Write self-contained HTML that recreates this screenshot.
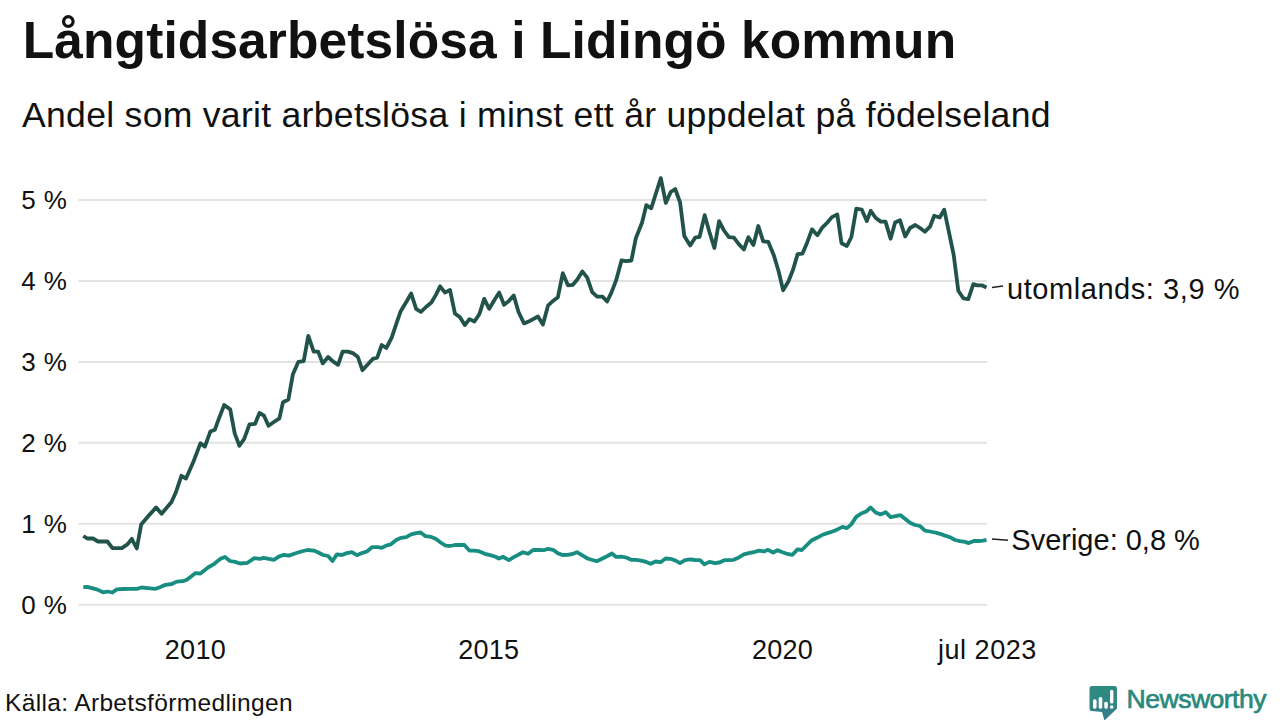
<!DOCTYPE html>
<html><head><meta charset="utf-8">
<style>
html,body{margin:0;padding:0;background:#fff;}
body{width:1280px;height:720px;position:relative;overflow:hidden;font-family:"Liberation Sans",sans-serif;color:#111;}
.t{position:absolute;white-space:nowrap;line-height:1;}
#title{left:22.75px;top:14.8px;font-size:51.5px;font-weight:bold;letter-spacing:0.1px;color:#111;}
#sub{left:22px;top:97.5px;font-size:35.6px;letter-spacing:0.28px;color:#111;}
.yl{position:absolute;right:1213.6px;font-size:26px;letter-spacing:-0.4px;word-spacing:1.5px;line-height:1;white-space:nowrap;color:#111;text-align:right;}
.xl{position:absolute;font-size:27px;letter-spacing:0.25px;line-height:1;white-space:nowrap;color:#111;transform:translateX(-50%);}
#src{left:5px;top:691.3px;font-size:24.5px;letter-spacing:0.35px;color:#111;}
#nw{left:1126.6px;top:685.7px;font-size:26.6px;letter-spacing:-0.55px;color:#2a897c;-webkit-text-stroke:0.7px #2a897c;}
.lab{position:absolute;font-size:29px;line-height:1;white-space:nowrap;color:#111;}
svg{position:absolute;left:0;top:0;}
</style></head><body>
<svg width="1280" height="720" viewBox="0 0 1280 720">
<line x1="78.5" y1="604.7" x2="987" y2="604.7" stroke="#e2e2e2" stroke-width="2"/>
<line x1="78.5" y1="523.8" x2="987" y2="523.8" stroke="#e2e2e2" stroke-width="2"/>
<line x1="78.5" y1="442.8" x2="987" y2="442.8" stroke="#e2e2e2" stroke-width="2"/>
<line x1="78.5" y1="361.9" x2="987" y2="361.9" stroke="#e2e2e2" stroke-width="2"/>
<line x1="78.5" y1="280.9" x2="987" y2="280.9" stroke="#e2e2e2" stroke-width="2"/>
<line x1="78.5" y1="200" x2="987" y2="200" stroke="#e2e2e2" stroke-width="2"/>
<polyline fill="none" stroke="#178e81" stroke-width="3.8" stroke-linejoin="round" points="83.3,587.1 87.4,586.9 91.8,588.1 96.8,589.4 103.0,592.3 107.4,591.5 112.4,592.5 116.8,589.4 123.0,589.0 130.5,588.8 136.8,588.8 141.8,587.5 148.0,588.1 155.5,588.8 159.3,587.5 165.5,584.8 171.8,584.0 176.8,581.6 183.0,581.2 186.8,579.8 190.5,576.9 195.5,573.1 200.5,573.5 208.0,567.5 214.3,563.8 220.5,558.8 224.9,556.9 229.9,561.0 235.0,561.9 240.0,563.5 247.5,562.8 254.4,558.1 260.0,558.8 263.8,557.9 268.8,558.8 273.8,559.8 278.8,556.6 283.8,554.8 288.8,555.6 295.0,553.5 301.2,551.5 307.5,550.0 313.8,550.6 318.8,552.8 323.1,555.0 328.1,556.0 332.5,561.0 336.9,554.4 341.9,555.0 346.9,553.1 351.9,552.2 356.9,555.2 361.9,553.1 366.9,551.5 371.9,547.2 377.5,547.2 381.9,547.8 386.2,545.6 390.6,544.4 396.2,540.0 401.2,537.8 406.2,537.2 411.2,534.4 416.2,533.1 420.6,532.5 425.6,536.2 431.2,536.9 435.6,538.8 440.6,542.5 445.6,545.6 450.0,546.0 455.0,545.0 464.4,545.0 469.4,550.6 473.8,550.6 478.8,551.2 485.0,553.8 490.0,555.2 495.0,556.5 498.8,558.5 503.1,556.9 508.8,560.2 513.8,557.2 518.1,554.8 523.1,552.2 528.1,553.8 533.1,550.0 538.8,549.8 543.8,550.2 548.1,548.8 553.1,549.8 557.5,553.1 562.5,555.0 567.5,554.8 572.5,554.0 576.9,552.2 581.9,555.2 587.5,558.5 592.5,560.0 596.9,561.2 601.9,558.8 607.5,556.0 611.9,553.5 616.2,556.9 621.2,556.6 626.2,557.5 631.2,559.8 636.2,559.8 641.2,560.6 646.2,561.9 650.6,563.8 655.6,561.5 660.6,562.2 665.6,558.5 670.6,558.8 675.6,560.6 680.0,563.1 685.0,560.2 690.0,559.4 695.0,560.0 700.0,560.2 704.4,564.4 709.4,561.9 715.0,563.1 719.4,562.5 724.4,560.2 728.8,560.2 733.8,559.8 738.8,557.5 743.8,554.4 748.8,553.1 753.8,552.2 758.8,550.6 763.8,551.5 768.1,549.8 773.1,552.5 777.5,550.2 782.5,552.2 787.5,554.0 792.5,554.8 797.5,549.4 801.9,550.0 806.9,545.0 811.9,540.2 816.9,537.8 822.5,534.8 827.5,533.1 832.5,531.5 837.5,529.4 842.5,526.9 846.9,528.1 851.2,524.4 856.2,516.9 861.2,513.5 866.2,511.5 870.6,507.5 875.6,512.5 880.6,514.4 885.6,512.2 890.6,517.2 895.6,516.2 900.6,515.2 905.0,518.8 910.0,522.8 915.0,525.0 920.0,526.0 925.0,530.6 930.0,531.5 935.0,532.5 940.0,533.8 945.0,535.6 950.0,537.2 955.0,540.0 960.0,541.2 965.0,541.9 968.8,543.1 973.8,541.0 978.8,541.0 983.1,540.6 986.5,539.8"/>
<polyline fill="none" stroke="#21534a" stroke-width="3.8" stroke-linejoin="round" points="83.3,536.0 87.4,538.5 93.0,538.5 98.0,541.5 107.4,541.5 112.4,548.1 121.8,548.1 127.4,544.4 131.8,538.8 136.8,548.5 141.2,524.4 148.0,516.4 156.2,507.4 161.6,513.7 171.5,502.0 176.0,492.0 181.4,475.8 186.0,478.5 193.2,462.3 200.4,443.3 204.9,446.6 210.3,431.6 214.8,429.8 218.4,419.9 224.2,405.0 230.2,409.4 234.7,433.4 239.4,445.7 244.1,439.2 249.5,424.4 255.0,423.9 259.5,413.0 264.0,415.7 268.5,425.7 273.9,422.0 279.4,418.4 283.0,402.2 288.4,399.5 292.9,374.2 298.3,361.9 303.7,361.2 308.3,335.9 313.7,351.6 318.2,351.6 322.7,363.4 328.1,357.0 332.6,361.2 338.1,364.8 342.6,351.6 348.0,351.6 353.4,353.4 357.9,357.0 362.4,370.2 367.9,364.3 372.7,358.9 377.2,357.6 381.7,345.0 386.3,348.0 391.7,337.7 396.2,324.2 400.7,311.2 406.1,302.2 411.2,293.5 416.1,308.8 420.9,311.9 426.0,307.0 431.4,302.5 435.9,294.9 440.1,286.3 445.0,292.6 450.0,289.9 454.9,313.4 460.0,317.3 464.8,325.1 469.4,319.1 474.4,321.5 479.3,314.3 484.2,298.9 489.2,308.8 494.6,299.8 499.2,292.6 504.0,304.7 508.6,301.2 513.7,295.4 518.5,312.0 524.0,323.4 530.3,320.7 538.0,316.5 542.9,324.6 548.0,305.7 552.3,301.5 557.9,297.2 562.8,273.2 567.9,285.3 572.7,284.9 577.3,279.5 582.3,271.4 587.2,277.7 592.2,292.1 597.1,296.6 602.5,296.6 607.1,301.5 611.6,292.1 616.1,280.4 621.5,260.5 626.4,261.1 631.4,260.5 635.8,238.3 642.0,222.8 646.3,205.2 651.2,208.3 655.9,193.5 660.8,178.1 665.8,202.9 670.7,192.0 675.2,189.0 680.1,202.5 684.3,235.9 690.2,245.5 695.1,237.7 699.6,236.8 704.7,215.2 709.5,232.3 714.4,248.0 719.1,221.1 724.0,230.5 728.9,237.2 733.9,237.7 739.0,244.4 743.9,249.5 748.4,237.2 753.4,245.0 758.3,226.0 763.2,241.4 768.3,241.9 773.7,254.9 778.6,271.3 783.1,290.3 788.5,281.2 793.1,269.5 797.6,254.1 802.5,253.6 807.2,242.4 812.0,229.4 817.4,235.2 822.0,227.9 827.4,222.5 831.9,217.1 837.3,214.4 841.5,243.3 846.9,246.0 851.4,237.0 856.3,208.6 861.7,209.5 866.8,221.1 870.7,210.8 875.8,218.0 880.7,221.6 885.5,221.6 890.6,238.8 895.1,222.5 900.0,220.3 905.2,236.5 910.0,228.0 915.3,225.0 920.0,228.0 925.0,231.7 930.0,226.7 934.2,215.8 939.7,217.5 944.2,209.7 949.2,233.3 953.7,255.0 958.3,290.8 963.3,298.3 968.3,299.2 973.3,284.2 977.5,285.3 981.7,285.3 986.5,287.5"/>
<line x1="992" y1="287.5" x2="1003" y2="286" stroke="#222" stroke-width="1.4"/>
<line x1="992" y1="539" x2="1008" y2="540.2" stroke="#222" stroke-width="1.4"/>
<defs><linearGradient id="lg" x1="0" y1="0" x2="0" y2="1"><stop offset="0" stop-color="#2b8d80"/><stop offset="1" stop-color="#3a7b8b"/></linearGradient></defs>
<path d="M1092 686 H1114.5 Q1117 686 1117 688.5 V708.5 L1104.5 720.5 L1102 712 L1092 711 Q1089.5 711 1089.5 708.5 V688.5 Q1089.5 686 1092 686 Z" fill="url(#lg)"/>
<g fill="#fff">
<rect x="1093" y="699.3" width="3.6" height="9.4" rx="1.6"/>
<rect x="1098.7" y="697" width="3.6" height="11.7" rx="1.6"/>
<rect x="1104.3" y="701.7" width="3.5" height="7" rx="1.6"/>
<rect x="1110" y="689.8" width="3.4" height="13.8" rx="1.6"/>
<circle cx="1111.7" cy="707" r="1.8"/>
</g>
</svg>
<div class="t" id="title">Långtidsarbetslösa i Lidingö kommun</div>
<div class="t" id="sub">Andel som varit arbetslösa i minst ett år uppdelat på födelseland</div>
<div class="yl" style="top:187px">5 %</div>
<div class="yl" style="top:267.9px">4 %</div>
<div class="yl" style="top:348.9px">3 %</div>
<div class="yl" style="top:429.8px">2 %</div>
<div class="yl" style="top:510.8px">1 %</div>
<div class="yl" style="top:591.7px">0 %</div>
<div class="xl" style="left:195.4px;top:636.6px">2010</div>
<div class="xl" style="left:488.7px;top:636.6px">2015</div>
<div class="xl" style="left:782.5px;top:636.6px">2020</div>
<div class="xl" style="left:987.4px;top:636.6px;letter-spacing:0.55px">jul 2023</div>
<div class="lab" style="left:1007px;top:274.5px;letter-spacing:0.56px">utomlands: 3,9 %</div>
<div class="lab" style="left:1011.3px;top:526.3px">Sverige: 0,8 %</div>
<div class="t" id="src">Källa: Arbetsförmedlingen</div>
<div class="t" id="nw">Newsworthy</div>
</body></html>
